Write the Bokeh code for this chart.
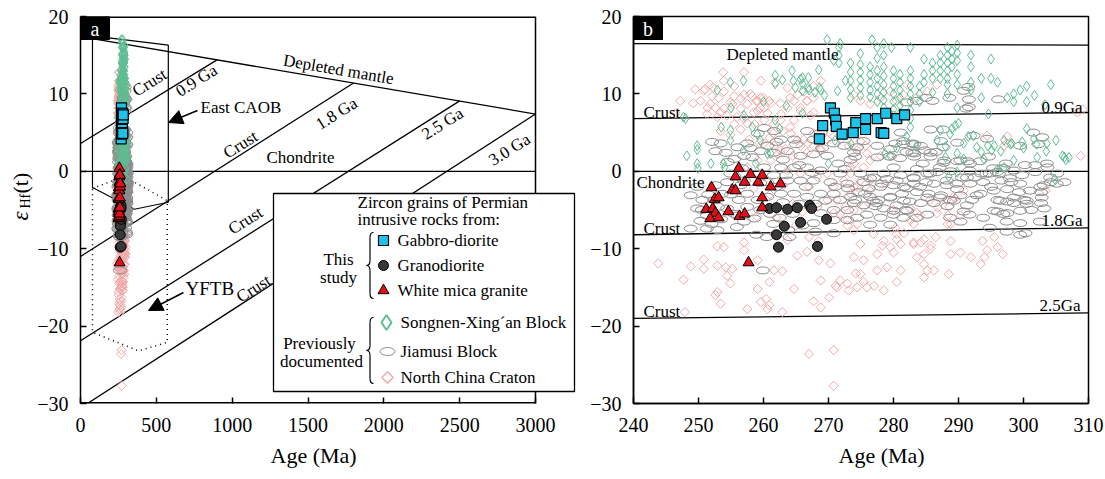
import math
from bokeh.plotting import figure
from bokeh.layouts import row
from bokeh.models import (Range1d, FixedTicker, Label, BoxAnnotation, Arrow, NormalHead,
                          CustomJSTickFormatter, Title)
from bokeh.embed import file_html
from bokeh.resources import INLINE

FONT = "Liberation Serif"

# ---------------- data (age Ma, epsilon Hf(t)) ----------------
GBD_AGE = [268.6, 269.1, 270.3, 270.9, 271.1, 271.2, 272.1, 273.8, 274.2, 275.7, 275.7, 277.5, 278.1, 278.5, 278.8, 280.5, 281.7]
GBD_EHF = [4.2, 5.9, 8.2, 7.5, 6.6, 5.8, 4.8, 5.0, 6.3, 6.8, 5.4, 6.8, 5.0, 4.9, 7.5, 6.8, 7.3]

GD_AGE = [260.9, 262.0, 263.7, 265.2, 267.1, 267.4, 265.7, 263.2, 269.7, 262.0, 262.3, 268.3]
GD_EHF = [-4.8, -4.7, -4.9, -4.7, -4.4, -4.8, -6.6, -7.1, -6.2, -8.2, -9.8, -9.7]

WMG_AGE = [252.0, 252.5, 253.1, 251.2, 252.2, 252.6, 251.8, 253.1, 254.6, 256.3, 257.1, 255.2,
           255.7, 255.7, 256.2, 257.1, 258.0, 259.2, 259.8, 259.8, 259.8, 261.1, 262.6, 257.7]
WMG_EHF = [-2.1, -3.6, -3.4, -4.9, -4.8, -5.4, -6.1, -6.0, -5.2, -5.8, -5.5, -2.4,
           -2.5, -0.7, 0.4, -1.4, -0.4, -1.4, -0.5, -3.4, -4.7, -2.0, -1.6, -11.8]

SXB_POINTS = [
    (247.7, 7.0), (248.0, 6.8), (248.2, 2.0), (249.8, 3.3), (249.8, 2.8), (249.8, 1.0), (249.9, 0.4),
    (251.9, 1.0), (252.9, 10.5), (253.5, 5.7), (253.8, 1.0), (254.9, 4.0), (254.9, 5.3), (255.0, 8.2),
    (254.9, 11.5), (256.9, 11.7), (257.0, 7.2), (256.9, 2.7), (258.3, 5.7), (259.0, 4.8), (258.8, 1.0),
    (259.5, 4.0), (260.6, 2.3), (261.1, 2.3), (261.8, 12.4), (261.8, 11.3), (261.8, 6.6), (262.9, 11.8),
    (262.5, 5.5), (264.4, 13.0), (264.6, 11.7), (264.9, 10.8), (265.7, 11.9), (266.0, 12.1), (266.0, 11.3),
    (266.0, 10.4), (266.9, 12.1), (266.9, 10.8), (267.0, 10.5), (267.9, 10.2), (268.6, 10.8), (268.8, 10.5),
    (269.4, 9.8), (268.5, 13.1), (269.8, 17.0), (270.8, 14.3), (271.4, 10.4), (271.6, 16.0), (271.6, 15.0),
    (271.6, 14.0), (271.8, 16.5), (272.6, 11.7), (273.4, 14.0), (273.4, 12.8), (273.4, 11.7), (273.4, 10.6),
    (273.4, 9.5), (271.0, 4.0), (273.5, 3.5), (270.0, 1.0), (266.0, 7.5), (263.5, 8.5), (260.0, 9.0),
    (256.0, -0.6), (254.0, 0.5),
    (274.9, 15.2), (274.9, 13.8), (274.9, 12.8), (274.9, 11.8), (274.9, 10.8), (274.9, 9.8),
    (276.4, 13.5), (276.4, 12.5), (276.4, 11.5), (276.4, 10.5), (276.4, 9.6), (276.7, 17.0),
    (277.5, 16.0), (277.5, 14.6), (277.5, 13.0), (277.5, 12.0), (277.5, 11.0), (277.5, 10.0), (277.5, 9.0),
    (278.5, 16.5), (278.5, 15.0), (278.5, 13.5), (278.5, 12.3), (278.5, 11.2), (278.5, 10.2), (278.5, 9.2), (278.5, 8.2),
    (279.7, 16.0), (280.0, 13.0), (280.0, 12.0), (280.0, 11.0), (280.0, 10.0), (280.0, 9.0), (280.0, 8.0), (280.0, 7.2),
    (281.0, 12.5), (281.0, 11.5), (281.0, 10.5), (281.0, 9.5), (281.0, 8.5), (281.0, 7.5),
    (282.6, 16.0), (282.6, 13.0), (282.6, 12.0), (282.6, 11.0), (282.6, 10.0), (282.6, 9.0), (282.6, 7.9),
    (282.6, 6.8), (282.6, 5.7), (284.0, 11.0), (284.0, 10.0), (284.0, 9.0), (284.7, 14.5), (284.7, 12.5),
    (284.7, 11.5), (286.0, 14.0), (286.0, 13.0), (286.0, 12.0), (286.0, 10.2), (287.2, 15.0), (287.2, 14.0),
    (287.2, 13.0), (287.2, 12.0), (288.3, 16.0), (288.3, 15.0), (288.3, 14.0), (288.3, 13.0), (288.3, 12.0),
    (288.3, 11.2), (288.3, 10.0), (289.0, 15.5), (289.0, 14.5), (289.0, 13.5), (289.8, 16.3), (289.8, 15.3),
    (289.8, 14.3), (289.8, 12.5), (289.8, 11.2), (289.8, 8.2), (291.9, 15.0), (291.9, 13.5), (291.9, 11.5),
    (291.9, 10.5), (293.5, 12.0), (293.5, 9.5), (295.0, 14.5), (295.0, 12.0), (296.0, 11.5), (297.5, 9.5),
    (298.5, 10.0), (298.5, 9.0), (299.5, 10.5), (300.5, 11.0), (300.5, 9.0), (301.7, 9.8), (303.3, 8.6),
    (304.2, 11.2), (306.0, 2.0), (306.5, 1.5), (305.0, 4.0),
    (282.0, 4.5), (283.5, 3.2), (286.7, 4.0), (288.0, 3.2), (289.0, 5.5), (290.0, 6.2), (291.5, 4.5),
    (293.5, 2.5), (294.5, 3.3), (295.5, 3.3), (296.5, 2.6), (298.0, 3.5), (300.0, 3.0), (302.0, 3.5),
    (303.5, 2.6), (297.0, 0.5), (288.0, 1.8), (300.5, 5.5), (306.3, 1.8), (307.0, 1.8), (304.8, -1.0),
    (296.0, 0.3), (288.5, -0.7), (280.5, 3.0), (279.5, 2.0), (287.2, 5.3), (288.7, 4.8), (289.5, 5.9),
    (289.8, 2.3), (290.8, 3.6), (292.3, 4.6), (292.8, 3.1), (295.1, 2.7), (297.0, 4.0), (298.2, 3.6),
    (299.8, 3.8), (301.6, 4.2), (302.1, 1.8), (303.6, 3.6), (298.5, 1.4), (293.9, 1.6), (290.8, 1.6),
    (289.8, -0.1), (278.7, 2.3), (294.6, 7.4),
]

JMB_POINTS = [
    (248.8, -3.1), (249.8, -2.0), (250.6, -3.7), (249.8, -4.8), (251.3, -5.7), (250.3, -6.4), (252.4, -3.7),
    (253.6, -2.9), (252.6, -1.8), (254.4, -1.4), (254.4, -4.8), (256.2, -3.7), (257.5, -2.9), (257.5, -4.6),
    (256.0, -5.7), (257.0, -6.5), (258.6, -6.1), (254.9, -0.3), (256.7, 0.4), (258.6, -0.3), (260.1, 0.5),
    (260.6, -1.4), (261.6, -0.5), (262.7, 0.5), (263.7, -1.2), (264.7, 0.5), (265.7, -1.2), (266.7, 0.5),
    (267.7, -1.2), (268.8, 0.1), (270.3, -1.4), (271.8, -0.3), (272.9, -1.6), (270.8, -2.9), (268.8, -2.9),
    (266.7, -3.3), (264.7, -2.9), (262.7, -2.9), (260.6, -3.3), (259.1, -3.7), (271.8, -3.7), (273.4, -3.3),
    (272.9, -5.0), (270.8, -5.0), (268.8, -5.4), (267.7, -6.7), (270.8, -6.3), (272.9, -6.3), (270.8, -8.0),
    (258.9, -8.2), (260.5, -8.5), (252.9, -7.6), (251.3, -7.4), (248.8, -7.4), (259.9, -12.8), (263.8, -7.6),
    (255.9, -7.2),
    (252.1, 3.8), (253.4, 3.6), (252.6, 2.6), (254.2, 2.4), (256.0, 3.1), (257.5, 3.6), (259.1, 4.9),
    (260.1, 5.6), (261.6, 5.2), (262.7, 4.1), (260.6, 3.3), (259.6, 2.6), (258.3, 1.8), (257.0, 2.0),
    (255.5, 1.6), (254.5, 1.2), (263.7, 2.6), (261.6, 2.4), (264.7, 4.1), (266.7, 5.2), (267.7, 4.1),
    (268.8, 5.0), (265.7, 2.0), (267.7, 2.2), (269.8, 2.0), (270.8, 3.6), (272.4, 3.3), (273.9, 2.4),
    (290.8, 10.4), (291.6, 9.3), (291.6, 8.3), (296.1, 9.3), (285.0, 9.5), (286.0, 9.1), (288.6, 9.5),
    (287.6, 5.4), (283.2, 3.5), (283.2, 2.3), (283.2, 1.9), (281.5, 3.5), (280.3, 3.6), (284.8, 2.7),
    (286.5, 2.5), (287.8, 1.4), (289.8, 1.3), (291.4, 1.3), (293.3, 1.3), (294.7, 1.9), (295.3, 0.4),
    (297.3, 1.0), (300.2, 0.8), (301.8, 0.8), (302.9, 4.4), (302.3, 3.5), (303.6, 1.0), (305.2, -0.3),
    (306.3, -1.4), (303.1, -1.8), (301.0, -2.5), (299.3, -2.7), (298.1, -1.4), (296.6, -1.2), (296.2, -0.3),
    (294.8, -0.3), (293.5, -0.3), (291.7, 0.1), (291.3, -0.8), (289.7, -1.6), (288.2, -1.2), (287.1, 0.5),
    (285.6, -0.3), (285.0, -1.4), (283.6, 0.3), (283.1, -0.8), (283.1, -1.6), (281.6, -2.0), (280.5, -1.2),
    (280.0, 0.5), (278.5, -0.3), (278.2, -1.6), (276.4, -0.9), (275.4, -1.4), (274.6, -2.7), (274.1, -3.7),
    (276.4, -3.3), (277.7, -3.7), (279.5, -3.3), (281.3, -2.9), (283.6, -2.7), (285.4, -2.9), (287.3, -3.1),
    (288.7, -3.7), (290.3, -3.1), (292.1, -3.7), (293.4, -2.9), (295.0, -2.0), (296.0, -3.7), (297.5, -3.9),
    (298.5, -4.1), (300.1, -3.7), (302.7, -2.7), (304.2, -1.4), (302.7, -4.1), (303.2, -4.8), (301.2, -5.0),
    (296.0, -5.2), (297.5, -5.4), (291.3, -4.4), (290.8, -5.2), (288.3, -4.5), (286.2, -4.1), (284.2, -4.1),
    (282.5, -3.9), (281.9, -5.0), (280.5, -4.4), (278.5, -4.8), (277.4, -4.1), (275.6, -2.9), (275.4, -4.4),
    (273.9, -4.1), (277.2, -4.5),
    (281.5, 3.9), (275.4, 3.9), (277.5, 3.3), (279.5, 2.9), (282.0, 2.5), (279.4, 1.9), (281.0, 1.7),
    (277.5, 1.8), (284.2, 3.3), (287.3, 3.9), (285.7, 1.9), (274.4, 3.1), (274.1, 1.9), (273.4, 1.5),
    (291.5, 10.9), (282.0, 8.9), (283.6, 9.1), (291.2, 8.1), (285.7, 5.4),
    (288.7, -6.0), (291.7, -5.6), (293.8, -6.0), (297.4, -6.5), (299.5, -6.7), (302.5, -6.5), (290.3, -6.5),
    (285.2, -5.6), (283.6, -6.0), (281.5, -6.0), (280.0, -5.6), (278.0, -6.0), (275.9, -5.6), (274.4, -6.0),
    (276.4, -6.9), (279.5, -6.9), (294.8, -7.3), (297.4, -7.8), (299.5, -8.2), (300.3, -8.0),
    (281.1, 5.0), (282.9, 3.6), (282.9, 2.4), (285.7, 2.4), (287.7, 3.1), (289.8, 3.7), (292.3, 4.6),
    (294.4, 4.2), (299.5, 3.3), (301.5, 5.0), (284.5, 1.0), (287.7, 1.1), (290.3, 1.4), (291.8, 1.0),
    (296.9, 0.4), (298.5, 0.1), (303.7, 0.5), (274.9, -0.3), (277.0, -0.8), (279.0, -1.0), (281.1, -0.5),
    (283.1, -0.9), (285.2, -0.3), (286.7, -0.1), (288.8, 0.0), (290.5, -0.8), (292.5, -0.8), (294.3, -0.3),
    (295.9, -0.1), (297.9, -0.9), (299.8, -0.5), (301.8, -0.1), (304.1, -0.8), (276.2, -2.2), (278.0, -2.0),
    (280.0, -1.8), (282.0, -2.2), (284.1, -2.0), (286.2, -1.6), (288.2, -1.8), (289.8, -2.3), (291.8, -1.6),
    (293.8, -1.4), (295.4, -2.5), (297.5, -2.3), (299.5, -1.6), (302.6, -2.0), (305.1, -1.6), (276.9, -3.8),
    (279.5, -3.4), (281.6, -3.8), (285.2, -3.4), (287.2, -3.4), (289.3, -3.8), (292.8, -3.1), (296.4, -3.8),
    (298.5, -3.4), (300.5, -3.8), (302.8, -3.4), (295.4, -5.1), (296.9, -5.5), (299.5, -5.1), (300.5, -4.2),
    (280.0, -5.1), (282.1, -5.1),
    (262.0, -2.0), (263.0, -4.0), (264.5, -5.5), (265.5, -4.2), (266.5, -2.0), (268.0, -4.2), (269.5, -3.8),
    (261.0, -5.5), (262.5, -6.0), (266.0, -7.0), (268.0, -7.8), (264.0, -8.5), (263.0, 1.5), (265.0, 3.5),
    (269.0, 3.0), (271.5, 1.0), (272.5, 0.3), (271.0, -2.0), (273.0, -2.2), (262.0, 3.8), (258.0, 3.0),
    (256.5, -1.8), (255.5, -5.5), (253.5, -6.2), (252.0, -6.8), (250.5, -5.0), (251.5, -3.0), (253.0, -4.6),
    (255.0, -3.0), (257.0, -1.2), (259.5, -1.5), (259.5, -5.0), (261.5, -6.8), (265.5, 0.8), (267.5, -0.2),
    (263.5, -0.5),
]

NCC_POINTS = [
    (247.2, 9.1), (249.5, 10.6), (251.0, 10.6), (252.1, 9.7), (251.8, 11.2), (253.9, 10.3), (253.9, 11.7),
    (255.5, 11.0), (255.5, 9.7), (257.0, 9.9), (258.3, 9.7), (258.9, 9.1), (259.6, 9.5), (260.9, 9.1),
    (260.1, 8.2), (259.1, 7.8), (257.5, 8.7), (256.5, 8.1), (255.2, 8.7), (253.9, 8.1), (252.6, 8.2),
    (251.8, 8.7), (251.3, 7.4), (252.9, 7.0), (254.4, 7.2), (255.5, 6.1), (257.0, 6.8), (258.6, 6.1),
    (260.1, 6.6), (261.6, 6.1), (262.7, 7.4), (263.7, 8.2), (264.7, 9.1), (265.2, 9.9), (266.2, 10.3),
    (266.7, 9.1), (267.7, 9.5), (265.7, 7.8), (267.2, 7.2), (264.7, 6.6), (263.0, 5.2), (264.2, 4.9),
    (266.2, 4.1), (267.7, 3.3), (253.4, 5.2), (254.9, 4.7), (256.5, 5.4), (257.8, 4.1), (259.4, 3.7),
    (260.9, 4.3), (261.6, 3.3), (262.2, 2.2), (263.4, 2.9), (264.5, 2.0), (265.7, 3.3), (266.7, 2.4),
    (268.8, 2.9), (269.8, 4.1), (270.8, 4.5), (271.8, 4.1), (272.9, 4.9), (273.9, 5.7), (273.1, 3.3),
    (257.0, 12.8), (259.6, 11.7), (261.8, 11.5), (263.7, 10.8), (267.7, 11.0), (268.8, 11.7),
    (253.8, 12.8), (252.3, 10.8), (250.3, 9.1), (250.8, 10.4), (253.1, 9.5), (254.9, 8.9), (256.5, 9.4),
    (258.0, 10.0), (259.1, 9.1), (260.0, 9.5), (261.1, 8.8), (259.5, 8.2), (258.5, 7.6), (260.6, 7.5),
    (262.6, 8.8), (264.1, 9.5), (265.7, 8.2), (266.7, 9.1), (267.7, 7.6), (262.6, 6.6), (264.1, 5.7),
    (261.5, 4.9), (265.2, 4.0), (266.8, 3.6), (267.7, 4.9), (268.8, 2.7), (262.6, 2.7), (260.0, 3.6),
    (257.5, 6.2), (255.9, 7.0), (253.4, 7.6), (251.4, 8.2), (249.2, 8.8), (246.5, 7.5),
    (257.5, 0.5), (259.1, 1.4), (261.1, 1.4), (263.7, 0.1), (265.7, -0.3), (267.0, -2.0), (268.3, -0.7),
    (269.8, -0.3), (270.8, -2.0), (272.4, -1.2), (273.4, 0.5), (273.9, -2.0), (271.3, -3.7), (272.6, -4.6),
    (269.8, -3.7), (268.3, -4.6), (270.8, -5.4), (272.9, -6.3), (273.9, -5.0), (273.9, -7.6),
    (258.5, -2.2), (261.0, -3.0), (263.0, -1.8), (264.5, -4.2), (266.0, -5.2), (262.0, -6.0), (259.0, -5.8),
    (265.0, -7.0), (267.0, -8.5), (268.5, -9.0),
    (273.4, 4.8), (274.9, 3.9), (274.4, 2.7), (275.9, 2.3), (273.9, 1.0), (275.4, 0.5), (273.4, -0.3),
    (274.9, -1.2), (276.4, 1.4), (274.4, -2.0), (273.4, -2.9), (276.4, -2.5), (275.4, -4.6),
    (279.5, 10.3), (281.5, 9.9), (283.6, 9.5), (285.2, 10.3), (286.7, 11.2), (282.1, 11.2), (280.5, 9.1),
    (278.0, 9.5), (276.4, 8.7), (274.9, 9.1), (273.9, 9.9),
    (297.5, 4.5), (297.0, 3.3), (308.8, 2.0), (308.3, 7.6), (309.1, 8.0), (303.4, -2.5), (289.2, -3.3),
    (290.8, -2.5), (288.1, -3.7), (285.6, -3.7), (283.6, -5.4), (286.7, -5.4), (288.6, -4.6), (280.0, -5.0),
    (282.6, -6.3), (281.6, -8.0), (280.5, -8.8), (283.1, -9.2), (284.7, -8.8), (285.7, -9.6),
    (275.7, 3.3), (278.0, 2.0), (279.8, 2.0), (276.4, -1.2), (278.8, -1.6), (282.6, -4.8), (284.1, -5.7),
    (286.8, -4.7), (288.4, -5.7), (289.5, -3.5), (290.3, -5.7), (280.3, -7.3), (283.1, -6.8), (288.3, -6.8),
    (294.4, 4.6), (297.5, 3.6),
    (243.8, -11.9), (247.9, -18.2), (247.7, -14.0), (248.8, -12.3), (250.8, -12.6), (250.8, -11.4),
    (252.9, -9.7), (253.9, -9.8), (252.9, -12.2), (254.2, -12.4), (254.4, -13.5), (254.9, -14.5),
    (252.9, -15.6), (252.6, -16.0), (253.4, -17.1), (255.2, -12.6), (257.0, -10.2), (257.5, -17.8),
    (259.1, -15.2), (259.1, -11.5), (260.4, -16.5), (260.9, -17.3), (259.6, -16.9), (261.6, -12.8),
    (262.9, -12.9), (262.9, -18.2), (260.9, -14.3), (260.6, -17.8), (264.7, -15.2), (266.7, -10.4),
    (267.0, -23.6), (267.7, -16.8), (268.5, -11.5), (268.8, -14.1), (268.8, -17.6), (270.1, -16.3),
    (270.3, -11.9), (270.8, -23.1), (270.8, -27.7), (271.1, -14.8), (271.3, -15.0), (271.8, -14.1),
    (272.9, -14.5), (273.1, -15.4), (274.2, -13.2), (257.0, -9.2), (263.7, -8.9), (265.2, -10.9),
    (261.6, -8.1), (271.8, -5.5), (272.9, -7.0), (274.4, -6.8),
    (274.9, -9.4), (273.9, -11.1), (275.4, -11.5), (274.9, -13.3), (275.4, -14.3), (275.9, -15.0),
    (274.4, -15.0), (277.0, -14.8), (277.5, -12.8), (277.5, -10.7), (278.3, -9.6), (278.5, -9.0),
    (279.5, -9.8), (280.0, -10.5), (279.0, -12.4), (281.1, -12.8), (281.1, -9.4), (280.5, -14.3),
    (278.5, -15.4), (283.1, -9.4), (284.2, -9.2), (284.7, -10.7), (283.6, -11.1), (284.7, -12.0),
    (285.2, -12.8), (284.7, -13.7), (286.2, -12.8), (285.7, -10.0), (286.5, -8.5), (288.8, -9.0),
    (288.8, -10.7), (288.5, -13.3), (290.3, -10.5), (291.9, -11.1), (293.4, -12.0), (294.0, -11.1),
    (293.7, -9.0), (295.5, -8.5), (296.0, -9.8), (296.8, -10.7), (294.4, -10.2), (288.8, -6.8),
    (276.9, -8.1), (280.5, -8.1),
]

SXB_AGE = [a for a, e in SXB_POINTS]
SXB_EHF = [e for a, e in SXB_POINTS]
JMB_AGE = [a for a, e in JMB_POINTS]
JMB_EHF = [e for a, e in JMB_POINTS]
NCC_AGE = [a for a, e in NCC_POINTS]
NCC_EHF = [e for a, e in NCC_POINTS]

# reference evolution lines, panel a
DM_A_AGE = [0, 3000]
DM_A_EHF = [17.4, 7.4]
CHUR_A_AGE = [0, 3000]
CRUST_A_AGE = [[900, 0], [1800, 0], [2500, 0], [3000, 46]]
CRUST_A_EHF = [[14.4, 3.6], [11.4, -11.0], [9.1, -21.9], [7.4, -30.0]]
CAOB_AGE = [79, 579, 579, 355, 79, 79]
CAOB_EHF = [17.5, 16.3, -4.0, -4.9, -2.1, 17.5]
YFTB_AGE = [79, 230, 329, 572, 572, 382, 79, 79]
YFTB_EHF = [-2.2, -1.1, -1.1, -3.8, -22.1, -23.2, -20.8, -2.2]

# reference evolution lines, panel b
DM_B_AGE = [240, 310]
DM_B_EHF = [16.5, 16.3]
CHUR_B_AGE = [240, 310]
CRUST_B_AGE = [[240, 310], [240, 310], [240, 310]]
CRUST_B_EHF = [[6.8, 7.6], [-8.2, -7.3], [-19.0, -18.3]]

Y_TICKS = [-30, -20, -10, 0, 10, 20]
XA_TICKS = [0, 500, 1000, 1500, 2000, 2500, 3000]
XB_TICKS = [240, 250, 260, 270, 280, 290, 300, 310]

# ---------------- styling ----------------
C_CYAN = "#1cc3ea"
C_RED = "#e3101a"
C_DARK = "#383838"
C_GREEN = "#5fbd92"
C_PINK = "#f2a9a9"
C_GREY = "#8c8c8c"

FMT = CustomJSTickFormatter(code="return tick < 0 ? '\u2212' + Math.abs(tick) : '' + tick;")


def base_fig(x0, x1, xticks, fw, left_b, right_b):
    p = figure(frame_width=fw, frame_height=387, x_range=Range1d(x0, x1), y_range=Range1d(-30, 20),
               min_border_left=left_b, min_border_right=right_b, min_border_top=16, min_border_bottom=76,
               output_backend="svg", toolbar_location=None)
    p.xgrid.visible = False
    p.ygrid.visible = False
    p.outline_line_color = "black"
    p.outline_line_width = 1.5
    p.outline_line_alpha = 1.0
    p.background_fill_color = "white"
    p.border_fill_color = "white"
    for axis in (p.xaxis[0], p.yaxis[0]):
        axis.axis_line_color = "black"
        axis.axis_line_width = 1.5
        axis.major_tick_in = 6
        axis.major_tick_out = 0
        axis.major_tick_line_color = "black"
        axis.major_tick_line_width = 1.5
        axis.minor_tick_line_color = None
        axis.major_label_text_font = FONT
        axis.major_label_text_font_size = "20px"
        axis.major_label_text_color = "black"
        axis.formatter = FMT
    p.xaxis.major_label_standoff = 14
    p.yaxis.major_label_standoff = 12
    p.xaxis.ticker = FixedTicker(ticks=xticks)
    p.yaxis.ticker = FixedTicker(ticks=Y_TICKS)
    return p


def add_data(p):
    p.scatter(x=NCC_AGE, y=NCC_EHF, marker="square", angle=math.pi / 4, size=6.5,
              fill_color=None, line_color=C_PINK, line_width=1)
    p.ellipse(x=JMB_AGE, y=JMB_EHF, width=13, height=7, width_units="screen", height_units="screen",
              fill_color=None, line_color=C_GREY, line_width=1)
    p.scatter(x=SXB_AGE, y=SXB_EHF, marker="diamond", size=10,
              fill_color=None, line_color=C_GREEN, line_width=1)
    p.scatter(x=GD_AGE, y=GD_EHF, marker="circle", size=10, fill_color=C_DARK, line_color="black", line_width=1)
    p.scatter(x=WMG_AGE, y=WMG_EHF, marker="triangle", size=11, fill_color=C_RED, line_color="black", line_width=1)
    p.scatter(x=GBD_AGE, y=GBD_EHF, marker="square", size=10, fill_color=C_CYAN, line_color="black", line_width=1.2)


def txt(p, s, x, y, size=17, angle=0.0, align="center", baseline="middle", color="black", style="normal"):
    p.add_layout(Label(x=x, y=y, text=s, text_font=FONT, text_font_size=f"{size}px", text_color=color,
                       angle=angle, text_align=align, text_baseline=baseline, text_font_style=style))


def age_title(p, offset):
    p.add_layout(Title(text="Age (Ma)", align="left", offset=offset, text_font=FONT,
                       text_font_size="22px", text_font_style="normal", text_color="black", standoff=12),
                 "below")


# ---------------- y-axis title strip (epsilon Hf(t)) ----------------
EPS_W = 34
pe = figure(frame_width=EPS_W, frame_height=479, x_range=Range1d(0, EPS_W), y_range=Range1d(0, 479),
            min_border=0, x_axis_location=None, y_axis_location=None, output_backend="svg",
            toolbar_location=None, outline_line_color=None)
pe.grid.visible = False
pe.background_fill_color = "white"
pe.border_fill_color = "white"
txt(pe, "\u03b5", 20, 479 - 204, size=23, angle=math.pi / 2, align="left", style="italic")
txt(pe, "Hf", 25, 479 - 192, size=14, angle=math.pi / 2, align="left")
txt(pe, "(t)", 20, 479 - 177, size=22, angle=math.pi / 2, align="left")

# ---------------- panel a ----------------
A_FRAME_W = 500          # frame stretched beyond x=3000 so the legend box fits inside it
XA_MAX = 3000 * A_FRAME_W / 455
pa = base_fig(0, XA_MAX, XA_TICKS, A_FRAME_W, 80 - EPS_W, 0)
pa.outline_line_color = None
pa.xaxis.axis_line_color = None


def ax(px):
    return (px - 80) * 3000 / 455


def ay(py):
    return 20 - (py - 16) * 50 / 387


# frame border of panel a (stops at 3000 Ma)
pa.line([0, 3000], [20, 20], line_color="black", line_width=3)
pa.line([0, 3000], [-30, -30], line_color="black", line_width=3)
pa.line([3000, 3000], [-30, 20], line_color="black", line_width=1.5)

pa.line(DM_A_AGE, DM_A_EHF, line_color="black", line_width=1.3)
pa.line(CHUR_A_AGE, [0, 0], line_color="black", line_width=1.3)
pa.multi_line(CRUST_A_AGE, CRUST_A_EHF, line_color="black", line_width=1.3)
pa.line(CAOB_AGE, CAOB_EHF, line_color="black", line_width=1.2)
pa.line(YFTB_AGE, YFTB_EHF, line_color="black", line_width=1.5, line_dash="1 4")
add_data(pa)

pa.quad(left=[0], right=[ax(109)], top=[20], bottom=[ay(39)], fill_color="black", line_color="black")
txt(pa, "a", ax(94.5), ay(28), size=20, color="white")

A_ANG = math.radians(32)
txt(pa, "Crust", ax(149), ay(82), angle=A_ANG)
txt(pa, "0.9 Ga", ax(196), ay(80), angle=A_ANG)
txt(pa, "Crust", ax(240), ay(144), angle=A_ANG)
txt(pa, "1.8 Ga", ax(336), ay(113), angle=A_ANG)
txt(pa, "2.5 Ga", ax(442), ay(123), angle=A_ANG)
txt(pa, "3.0 Ga", ax(509), ay(149), angle=A_ANG)
txt(pa, "Crust", ax(245), ay(220), angle=A_ANG)
txt(pa, "Crust", ax(253), ay(288), angle=A_ANG)
txt(pa, "Depleted mantle", ax(338), ay(69), angle=math.radians(-9.7))
txt(pa, "Chondrite", ax(300), ay(157))
txt(pa, "East CAOB", ax(200), ay(107), align="left")
txt(pa, "YFTB", ax(185), ay(288), size=19, align="left")

pa.add_layout(Arrow(end=NormalHead(size=14, fill_color="black", line_color="black"),
                    x_start=ax(197), y_start=ay(110), x_end=ax(168), y_end=ay(122),
                    line_color="black", line_width=1.5))
pa.add_layout(Arrow(end=NormalHead(size=14, fill_color="black", line_color="black"),
                    x_start=ax(183), y_start=ay(292), x_end=ax(148), y_end=ay(310),
                    line_color="black", line_width=1.5))

# legend
pa.add_layout(BoxAnnotation(left=ax(273), right=ax(574), top=ay(193), bottom=ay(391),
                            fill_color="white", fill_alpha=1.0, line_color="black", line_width=1.3,
                            line_alpha=1.0))
txt(pa, "Zircon grains of Permian", ax(357), ay(202), align="left")
txt(pa, "intrusive rocks from:", ax(357), ay(219), align="left")
txt(pa, "Gabbro-diorite", ax(397), ay(240), align="left")
txt(pa, "Granodiorite", ax(397), ay(265), align="left")
txt(pa, "White mica granite", ax(397), ay(290), align="left")
txt(pa, "Songnen-Xing\u00b4an Block", ax(400), ay(322), align="left")
txt(pa, "Jiamusi Block", ax(400), ay(351), align="left")
txt(pa, "North China Craton", ax(400), ay(377), align="left")
txt(pa, "This", ax(338), ay(259))
txt(pa, "study", ax(338), ay(277))
txt(pa, "Previously", ax(319), ay(343))
txt(pa, "documented", ax(321), ay(361))

pa.scatter(x=[ax(383)], y=[ay(240)], marker="square", size=10, fill_color=C_CYAN, line_color="black",
           line_width=1.2, level="overlay")
pa.scatter(x=[ax(383)], y=[ay(265)], marker="circle", size=10, fill_color=C_DARK, line_color="black",
           line_width=1, level="overlay")
pa.scatter(x=[ax(383)], y=[ay(290)], marker="triangle", size=11, fill_color=C_RED, line_color="black",
           line_width=1, level="overlay")
pa.scatter(x=[ax(386)], y=[ay(322)], marker="diamond", size=15, fill_color=None, line_color=C_GREEN,
           line_width=2, level="overlay")
pa.ellipse(x=[ax(387)], y=[ay(351)], width=15, height=8, width_units="screen", height_units="screen",
           fill_color=None, line_color=C_GREY, line_width=1, level="overlay")
pa.scatter(x=[ax(387)], y=[ay(377)], marker="square", angle=math.pi / 4, size=8, fill_color=None,
           line_color=C_PINK, line_width=1.5, level="overlay")


def brace(p, xpx, top, bot):
    mid = (top + bot) / 2
    w = 7
    xm = xpx + w / 2
    p.segment(x0=[ax(xm), ax(xm)], y0=[ay(top + 5), ay(mid + 5)], x1=[ax(xm), ax(xm)],
              y1=[ay(mid - 5), ay(bot - 5)], line_color="black", line_width=1.2, level="overlay")
    p.quadratic(x0=[ax(xpx + w), ax(xm), ax(xpx), ax(xm)],
                y0=[ay(top), ay(mid - 5), ay(mid), ay(bot - 5)],
                x1=[ax(xm), ax(xpx), ax(xm), ax(xpx + w)],
                y1=[ay(top + 5), ay(mid), ay(mid + 5), ay(bot)],
                cx=[ax(xm), ax(xm), ax(xm), ax(xm)],
                cy=[ay(top), ay(mid), ay(mid), ay(bot)],
                line_color="black", line_width=1.2, level="overlay")


brace(pa, 366, 232, 298)
brace(pa, 366, 317, 383)
age_title(pa, 190)

# ---------------- panel b ----------------
pb = base_fig(240, 310, XB_TICKS, 455, 53, 17)


def bx(px):
    return 240 + (px - 633) * 70 / 455


pb.line(DM_B_AGE, DM_B_EHF, line_color="black", line_width=1.3)
pb.line(CHUR_B_AGE, [0, 0], line_color="black", line_width=1.3)
pb.multi_line(CRUST_B_AGE, CRUST_B_EHF, line_color="black", line_width=1.3)
add_data(pb)

pb.quad(left=[240], right=[bx(662)], top=[20], bottom=[ay(39)], fill_color="black", line_color="black")
txt(pb, "b", bx(647.5), ay(28), size=20, color="white")

txt(pb, "Depleted mantle", bx(782), ay(54))
txt(pb, "Crust", bx(643), ay(112), align="left")
txt(pb, "0.9Ga", bx(1082), ay(107), align="right")
txt(pb, "Chondrite", bx(636), ay(182), align="left")
txt(pb, "Crust", bx(643), ay(228), align="left")
txt(pb, "1.8Ga", bx(1082), ay(220), align="right")
txt(pb, "Crust", bx(643), ay(311), align="left")
txt(pb, "2.5Ga", bx(1080), ay(305), align="right")
age_title(pb, 205)

layout = row(pe, pa, pb)
open("out.html", "w").write(file_html(layout, INLINE))
